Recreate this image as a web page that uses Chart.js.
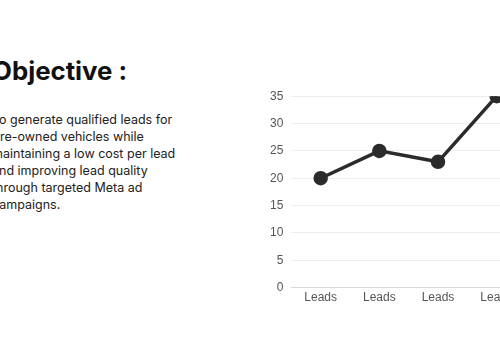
<!DOCTYPE html>
<html>
<head>
<meta charset="utf-8">
<script src="https://cdn.jsdelivr.net/npm/chart.js@4"></script>
<style>
  html, body { margin: 0; padding: 0; background: #fff; overflow: hidden; width: 500px; height: 350px; }
  .title { position: absolute; left: -8px; top: 55px; font-family: Inter, sans-serif; font-weight: 700; font-size: 25.8px; color: #111; white-space: nowrap; }
  .body  { position: absolute; left: -8px; top: 112px; font-family: Inter, sans-serif; font-size: 12.5px; line-height: 16.9px; color: #222; white-space: nowrap; }
  .chart { position: absolute; left: 262px; top: 81px; width: 273px; height: 227px; }
</style>
</head>
<body>
<div class="title">Objective :</div>
<div class="body">To generate qualified leads for<br>Pre-owned vehicles while<br>maintaining a low cost per lead<br>and improving lead quality<br>through targeted Meta ad<br>campaigns.</div>
<div class="chart"><canvas id="c"></canvas></div>
<script>
const labels = ['Leads', 'Leads', 'Leads', 'Leads'];
const values = [20, 25, 23, 35];
const yTicks = { min: 0, max: 35, step: 5 };

new Chart(document.getElementById('c'), {
  type: 'line',
  data: {
    labels,
    datasets: [{
      data: values,
      borderColor: '#2b2b2b',
      backgroundColor: '#2b2b2b',
      borderWidth: 3.5,
      pointRadius: 5.5,
      pointBackgroundColor: '#2b2b2b',
      tension: 0,
    }],
  },
  options: {
    responsive: true,
    maintainAspectRatio: false,
    animation: false,
    layout: { padding: 0 },
    scales: {
      x: {
        offset: true,
        grid: { display: false, drawTicks: false },
        border: { color: '#d8d8d8' },
        ticks: { color: '#555', font: { size: 12 }, padding: 3 },
      },
      y: {
        min: yTicks.min,
        max: yTicks.max,
        grid: { color: '#eeeeee', drawTicks: false },
        border: { display: false },
        ticks: { stepSize: yTicks.step, color: '#555', font: { size: 12 }, padding: 8 },
      },
    },
    plugins: { legend: { display: false }, tooltip: { enabled: false } },
  },
});
</script>
</body>
</html>
